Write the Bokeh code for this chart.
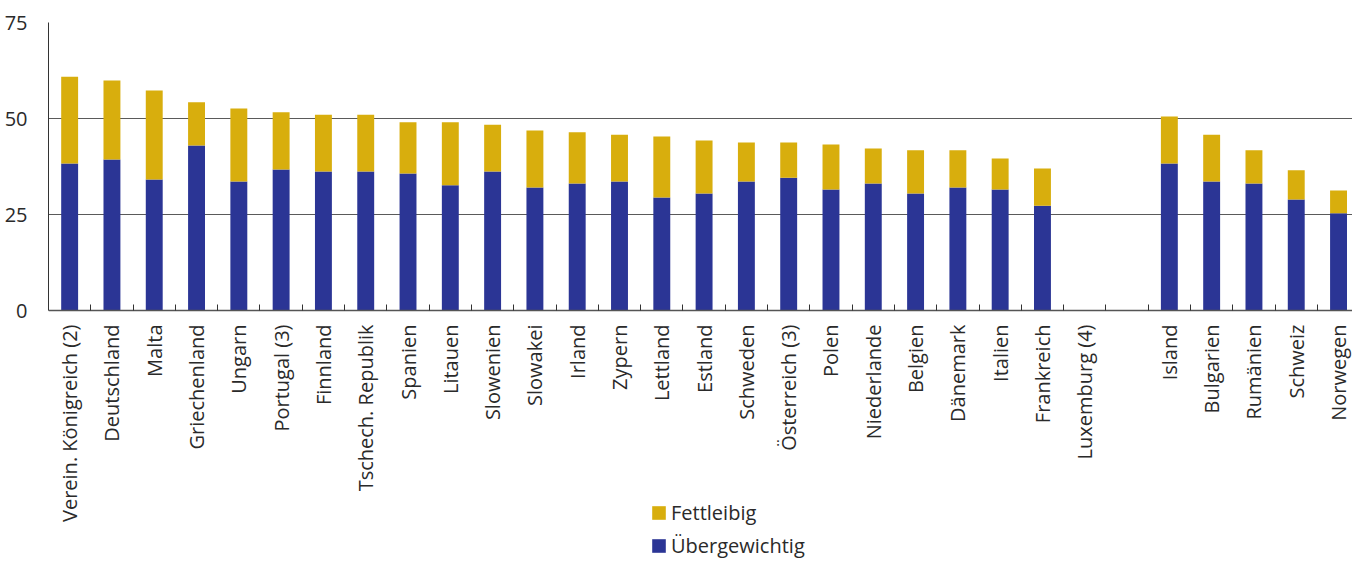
import math
from bokeh.plotting import figure
from bokeh.models import (ColumnDataSource, FixedTicker, Legend, LegendItem,
                          Range1d)
from bokeh.embed import file_html
from bokeh.resources import INLINE

# Anteil der Erwachsenen (%) nach Gewichtsklasse
countries = ["Verein. Königreich (2)", "Deutschland", "Malta", "Griechenland",
             "Ungarn", "Portugal (3)", "Finnland", "Tschech. Republik",
             "Spanien", "Litauen", "Slowenien", "Slowakei", "Irland",
             "Zypern", "Lettland", "Estland", "Schweden", "Österreich (3)",
             "Polen", "Niederlande", "Belgien", "Dänemark", "Italien",
             "Frankreich", "Luxemburg (4)",
             "Island", "Bulgarien", "Rumänien", "Schweiz", "Norwegen"]
nan = float("nan")
uebergewichtig = [38.3, 39.3, 34.1, 43.0, 33.6, 36.7, 36.2, 36.2, 35.7, 32.6,
                  36.2, 32.0, 33.1, 33.6, 29.4, 30.5, 33.6, 34.6, 31.5, 33.1,
                  30.5, 32.0, 31.5, 27.3, nan,
                  38.3, 33.6, 33.1, 28.9, 25.3]
gesamt = [60.9, 59.9, 57.3, 54.2, 52.6, 51.6, 51.0, 51.0, 49.0, 49.0,
          48.4, 46.9, 46.4, 45.8, 45.3, 44.3, 43.75, 43.75, 43.2, 42.2,
          41.7, 41.7, 39.6, 37.0, nan,
          50.5, 45.8, 41.7, 36.5, 31.25]
fettleibig = [g - u for g, u in zip(gesamt, uebergewichtig)]

# EU countries first, then a free slot, then the non-EU group
n_eu = 25
xpos = [i if i < n_eu else i + 1 for i in range(len(countries))]

BLUE = "#2B3595"
GOLD = "#D8AE0D"
FONT = "Open Sans"
TXT = "#2a2a2a"

W, H = 1352, 561
TOP, LEFT = 22, 48
PX_PER_UNIT = 288 / 75            # 0..75 spans 288 px
y_lo = 75 - (H - TOP) / PX_PER_UNIT  # frame reaches the bottom edge; labels and legend live below 0

src = ColumnDataSource(dict(x=xpos, ueber=uebergewichtig, fett=fettleibig))

p = figure(width=W, height=H, output_backend="svg", toolbar_location=None,
           x_range=Range1d(-0.5, 30.33), y_range=Range1d(y_lo, 75),
           min_border_left=LEFT, min_border_right=0, min_border_top=TOP,
           min_border_bottom=0)
p.outline_line_color = None
p.background_fill_color = "white"
p.border_fill_color = "white"

rs = p.vbar_stack(["ueber", "fett"], x="x", width=0.4, source=src,
                  color=[BLUE, GOLD], line_color=None)

# y axis
p.yaxis.ticker = FixedTicker(ticks=[0, 25, 50, 75])
p.yaxis.bounds = (0, 75)
p.yaxis.major_tick_line_color = None
p.yaxis.minor_tick_line_color = None
p.yaxis.axis_line_color = "#333333"
p.yaxis.major_label_text_font = FONT
p.yaxis.major_label_text_font_size = "20px"
p.yaxis.major_label_text_color = TXT
p.yaxis.major_label_standoff = 15
p.ygrid.grid_line_color = "#5a5a5a"
p.ygrid.grid_line_width = 1.2

# x axis drawn at y = 0: labels at slot centres, inward ticks at slot boundaries
p.xaxis.fixed_location = 0
p.xaxis.ticker = FixedTicker(ticks=xpos,
                             minor_ticks=[i - 0.5 for i in range(1, 31)])
p.xaxis.major_label_overrides = {x: c for x, c in zip(xpos, countries)}
p.xaxis.major_label_orientation = math.pi / 2
p.xaxis.major_tick_line_color = None
p.xaxis.minor_tick_in = 6
p.xaxis.minor_tick_out = 0
p.xaxis.minor_tick_line_color = "#333333"
p.xaxis.axis_line_color = "#555555"
p.xaxis.axis_line_width = 1.5
p.xaxis.major_label_text_font = FONT
p.xaxis.major_label_text_font_size = "20px"
p.xaxis.major_label_text_color = TXT
p.xaxis.major_label_standoff = 8
p.xgrid.grid_line_color = None

legend = Legend(items=[LegendItem(label="Fettleibig", renderers=[rs[1]]),
                       LegendItem(label="Übergewichtig", renderers=[rs[0]])],
                location=(602, 2), orientation="vertical",
                glyph_width=17, glyph_height=17, label_height=17,
                spacing=6, padding=0, margin=0, label_standoff=4,
                label_text_font=FONT, label_text_font_size="20px",
                label_text_color=TXT, border_line_color=None,
                background_fill_alpha=0)
p.add_layout(legend, "center")

open("out.html", "w").write(file_html(p, INLINE))
